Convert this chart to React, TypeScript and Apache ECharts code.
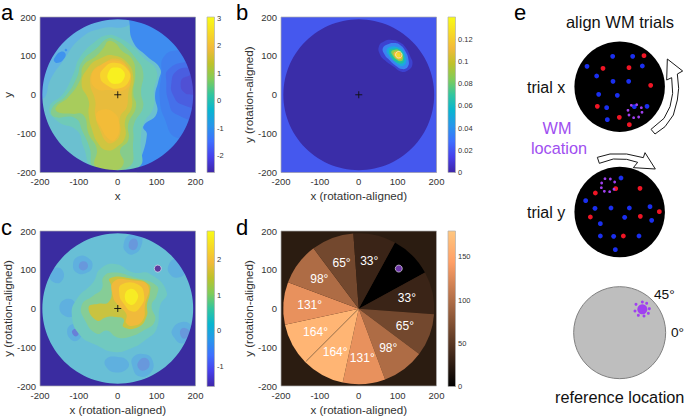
import React, { useEffect, useRef } from "react";
import * as echarts from "echarts";

type Pts = number[][];

const axisTicks = [-200, -100, 0, 100, 200];
const tipRadius = 194;
const targetLocation = [[103, 103]];
const markerCenter = [[0, 0]];

const barTicksA = [-2, -1, 0, 1, 2, 3];
const barTicksB = [0, 0.02, 0.04, 0.06, 0.08, 0.1, 0.12];
const barTicksC = [-1, 0, 1, 2];
const barTicksD = [0, 50, 100, 150];

const contoursA: Pts[] = [
  [[-200,-6],[-200,191],[32,208],[27,178],[-45,170],[-97,144],[-140,88],[-174,37],[-187,-6]],
  [[-161,97],[-148,110],[-135,107],[-138,93],[-153,82],[-164,87]],
  [[-135,118],[-130,116],[-132,112],[-136,113]],
  [[32,208],[30,187],[40,135],[75,99],[109,67],[105,37],[96,-2],[100,-49],[66,-81],[75,-102],[56,-182],[53,-212],[229,-212],[229,208]],
  [[120,100],[112,50],[108,-10],[120,-60],[150,-110],[200,-90],[229,0],[200,110],[165,115]],
  [[130,65],[125,30],[130,-15],[150,-50],[229,-60],[229,80],[180,85]],
  [[150,60],[138,30],[142,0],[165,-25],[229,-30],[229,65],[185,70]],
  [[172,45],[162,25],[172,5],[190,0],[229,0],[229,50]],
  [[-28,153],[-3,150],[40,123],[67,95],[100,61],[93,11],[92,-32],[66,-75],[59,-118],[53,-186],[-62,-186],[-88,-135],[-105,-92],[-155,-68],[-176,-33],[-140,3],[-114,54],[-97,97],[-54,140]],
  [[-26,145],[-5,141],[25,118],[45,95],[65,60],[60,5],[65,-32],[42,-75],[40,-118],[28,-186],[-60,-186],[-72,-138],[-90,-96],[-110,-60],[-165,-56],[-168,-33],[-133,-2],[-105,45],[-92,85],[-54,120]],
  [[-24,138],[-7,133],[10,114],[36,93],[45,58],[40,3],[47,-30],[27,-75],[27,-117],[6,-143],[15,-177],[-11,-195],[-58,-184],[-54,-139],[-75,-100],[-88,-53],[-118,-49],[-153,-45],[-159,-32],[-127,-6],[-97,37],[-88,75],[-54,101],[-35,123]],
  [[-11,101],[27,80],[40,45],[36,3],[36,-32],[19,-66],[19,-109],[-3,-135],[-28,-143],[-50,-126],[-67,-87],[-75,-49],[-75,-15],[-93,28],[-75,71],[-45,93]],
  [[-7,93],[25,73],[33,37],[27,3],[23,-32],[6,-57],[6,-100],[-11,-122],[-28,-122],[-45,-92],[-58,-53],[-58,-15],[-71,28],[-63,63],[-37,80]],
  [[-7,88],[24,70],[33,35],[12,10],[-20,12],[-56,16],[-68,47],[-50,72]],
  [[-45,-40],[-11,-45],[4,-79],[-7,-116],[-24,-113],[-44,-83],[-56,-56]],
  [[-8,82],[24,66],[30,38],[2,16],[-30,26],[-45,45],[-36,68]],
  [[-7,70],[14,62],[16,42],[-3,28],[-24,38],[-22,62]],
];
const fillsA = ["#63B4E2","#3F93EE","#3F93EE","#3E8CF0","#4080EE","#4570EA","#4A5EE0","#5050D4","#6FCAB8","#86CC8C","#A8CC5C","#CFC540","#E8BC3C","#F3BC38","#F3BC38","#F7D42C","#F8F020"];

const contoursB: Pts[] = [
  [[52,125],[65,137],[85,141],[105,135],[120,122],[132,100],[138,78],[125,62],[108,60],[90,72],[68,88],[54,105]],
  [[62,120],[75,130],[92,133],[108,127],[120,112],[128,90],[126,72],[112,66],[96,74],[78,90],[66,104]],
  [[72,116],[84,124],[100,123],[112,116],[120,100],[122,84],[114,74],[100,78],[88,90],[76,102]],
  [[78,114],[90,119],[102,118],[112,110],[117,96],[116,84],[108,80],[96,84],[84,96]],
  [[84,111],[94,116],[104,114],[112,104],[114,92],[108,86],[98,90],[88,100]],
  [[90,108],[98,112],[106,110],[111,100],[109,92],[100,92],[92,100]],
  [[95,106],[102,108],[107,102],[104,96],[97,98]],
];
const fillsB = ["#3C42D0","#3B83F2","#1CA8DF","#20C0A0","#8ACC50","#F0B83A","#F5D82C"];

const contoursC: Pts[] = [
  [[-115,115],[-100,135],[-75,130],[-65,110],[-80,92],[-105,92]],
  [[-100,112],[-90,122],[-78,116],[-80,102],[-95,100]],
  [[15,165],[30,190],[58,190],[60,160],[40,140],[22,145]],
  [[28,165],[38,180],[50,175],[48,155],[34,152]],
  [[-130,-55],[-112,-40],[-95,-55],[-98,-78],[-118,-82]],
  [[-118,-60],[-108,-52],[-100,-62],[-108,-72]],
  [[40,-125],[70,-118],[90,-135],[85,-165],[55,-175],[38,-150]],
  [[55,-135],[72,-128],[82,-145],[68,-160],[52,-152]],
  [[-30,-130],[0,-125],[25,-135],[25,-155],[-5,-165],[-30,-150]],
  [[140,-55],[165,-35],[190,-45],[195,-75],[165,-90],[145,-75]],
  [[160,-60],[172,-50],[185,-62],[170,-78]],
  [[130,110],[150,130],[170,120],[175,95],[155,80],[135,88]],
  [[-150,5],[-130,25],[-108,12],[-110,-15],[-135,-20]],
  [[-175,85],[-160,105],[-140,95],[-145,70],[-165,68]],
  [[-45,102],[-7,115],[40,93],[83,89],[126,42],[109,8],[100,-52],[75,-78],[32,-104],[-11,-112],[-54,-95],[-97,-69],[-118,-18],[-105,25],[-63,68]],
  [[-37,81],[-11,93],[40,81],[100,59],[100,33],[87,8],[96,-31],[66,-57],[27,-74],[-3,-74],[-28,-57],[-54,-65],[-84,-31],[-93,8],[-63,33],[-41,51]],
  [[-20,78],[40,76],[79,63],[83,42],[75,8],[75,-18],[53,-48],[15,-48],[15,-27],[-7,-22],[-28,-22],[-54,-31],[-75,3],[-50,12],[-24,16],[-15,51]],
  [[-10,70],[40,72],[78,58],[70,8],[66,-27],[44,-44],[22,-38],[22,-14],[2,8],[-12,30]],
  [[10,62],[52,62],[68,33],[58,4],[38,-8],[14,14],[4,38]],
  [[30,50],[50,40],[48,19],[32,10],[18,30]],
];
const fillsC = ["#5FB0DF","#6898DC","#5FB0DF","#6898DC","#5FB0DF","#6880D8","#5FB0DF","#6898DC","#5FB0DF","#5FB0DF","#6898DC","#5FB0DF","#5FB0DF","#5FB0DF","#70C9C0","#86CD96","#C9C340","#F0BA3B","#F5D22C","#F7EC24"];

const sliceDistances = [0, 33, 65, 98, 131, 164, 164, 131, 98, 65, 33];

const blueDotsX = [[428,169],[488,169],[517,198],[351,199],[380,228],[429,244],[476,244],[386,283],[442,286],[410,323],[531,319],[412,359],[493,320]];
const redDotsX = [[522,167],[399,205],[477,203],[542,256],[382,319],[448,352],[478,374]];
const ringDotsX = [[484,316],[500,314],[514,323],[516,337],[506,351],[491,353],[477,345],[474,331]];
const blueDotsY = [[453,534],[347,602],[375,625],[423,624],[478,624],[540,620],[391,671],[464,652],[545,661],[391,708],[431,709],[507,708],[436,749]];
const redDotsY = [[376,579],[437,566],[510,565],[568,635],[361,651],[511,649],[460,708]];
const ringDotsY = [[395,549],[405,536],[421,537],[434,546],[432,568],[419,575],[403,574],[394,563]];
const ringDotsRef = [[517,906],[530,910],[538,926],[535,940],[522,948],[505,946],[495,933],[498,913]];
const refDot = [[517,928]];
const discCenters = [[449,260],[449,636]];
const greyDisc = [[449,998]];
const arrowRight = [[555,402],[585,380],[610,345],[622,300],[626,265],[622,222],[638,213],[592,177],[590,240],[605,233],[608,280],[600,320],[582,355],[543,388]];
const arrowTop = [[382,472],[420,462],[470,462],[520,473],[525,458],[556,507],[490,503],[503,487],[470,478],[430,477],[388,490]];

const FONT = "Liberation Sans";
const TICK_COLOR = "#333333";
const parulaStops = ["#3E26A8","#4740EB","#3E6FFF","#2796EB","#08B5D0","#31C69F","#81CC59","#BEC22A","#F2BA3A","#F7DA26","#F9FB15"];

function copper(v: number) {
  const r = Math.min(1, v * 1.25), g = 0.78 * v, b = 0.5 * v;
  return `rgb(${Math.round(r * 255)},${Math.round(g * 255)},${Math.round(b * 255)})`;
}

const panels = [
  { left: 40, top: 17, xName: "x", yName: "y" },
  { left: 281, top: 17, xName: "x (rotation-aligned)", yName: "y (rotation-aligned)" },
  { left: 40, top: 231, xName: "x (rotation-aligned)", yName: "y (rotation-aligned)" },
  { left: 281, top: 231, xName: "x (rotation-aligned)", yName: "y (rotation-aligned)" },
];
const barRanges = [
  { min: -2.62, max: 3.05, ticks: barTicksA },
  { min: 0, max: 0.14, ticks: barTicksB },
  { min: -1.58, max: 2.82, ticks: barTicksC },
  { min: 0, max: 180, ticks: barTicksD },
];
const SIZE = 155.5;

function buildOption() {
  const grid: any[] = [], xAxis: any[] = [], yAxis: any[] = [], series: any[] = [];

  panels.forEach((p, i) => {
    grid.push({ left: p.left, top: p.top, width: SIZE, height: SIZE, show: true, borderColor: "#B0B0B0", borderWidth: 0.7, backgroundColor: "transparent", z: 10 });
    const tickLabel = { fontSize: 9.5, color: TICK_COLOR, fontFamily: FONT, margin: 4, customValues: axisTicks };
    const nameStyle = { fontSize: 11.6, color: TICK_COLOR, fontFamily: FONT };
    xAxis.push({ type: "value", gridIndex: i, min: -200, max: 200, interval: 100, name: p.xName, nameLocation: "middle", nameGap: 17, nameTextStyle: nameStyle, axisLine: { show: false, onZero: false }, axisTick: { show: false }, splitLine: { show: false }, axisLabel: tickLabel, z: 10 });
    yAxis.push({ type: "value", gridIndex: i, min: -200, max: 200, interval: 100, name: p.yName, nameLocation: "middle", nameGap: 22, nameTextStyle: nameStyle, axisLine: { show: false, onZero: false }, axisTick: { show: false }, splitLine: { show: false }, axisLabel: tickLabel, z: 10 });
  });

  panels.forEach((p, i) => {
    const r = barRanges[i];
    const gi = 4 + i;
    grid.push({ left: p.left + 167, top: p.top, width: 7.5, height: SIZE, show: true, borderColor: "#B0B0B0", borderWidth: 0.7, z: 10 });
    xAxis.push({ type: "value", gridIndex: gi, min: 0, max: 1, show: false });
    yAxis.push({
      type: "value", gridIndex: gi, min: r.min, max: r.max, position: "right",
      axisLine: { show: false, onZero: false }, splitLine: { show: false },
      axisTick: { show: true, inside: true, length: 1.5, lineStyle: { color: "#666", width: 0.5 }, customValues: r.ticks },
      axisLabel: { fontSize: 7.5, color: TICK_COLOR, fontFamily: FONT, margin: 2.5, customValues: r.ticks, showMinLabel: true, showMaxLabel: true },
    });
    const stops = i === 3
      ? [0, 0.2, 0.4, 0.6, 0.8, 1].map((t) => ({ offset: t, color: copper(t) }))
      : parulaStops.map((c, k) => ({ offset: k / (parulaStops.length - 1), color: c }));
    series.push({
      type: "custom", coordinateSystem: "cartesian2d", xAxisIndex: gi, yAxisIndex: gi, silent: true, data: [[0.5, r.min]],
      renderItem: (_: any, api: any) => {
        const a = api.coord([0, r.max]), b = api.coord([1, r.min]);
        return { type: "rect", shape: { x: a[0], y: a[1], width: b[0] - a[0], height: b[1] - a[1] }, style: { fill: new echarts.graphic.LinearGradient(0, 1, 0, 0, stops) } };
      },
    });
  });

  const contourSeries = (gi: number, layers: Pts[], fills: string[], base: string, corner: string) => {
    const layerSeries = {
      type: "custom", coordinateSystem: "cartesian2d", xAxisIndex: gi, yAxisIndex: gi, silent: true, clip: true, z: 2,
      data: layers.map((_, k) => [0, 0, k]),
      renderItem: (params: any, api: any) => ({
        type: "polygon",
        shape: { points: layers[params.dataIndex].map((q) => api.coord(q)), smooth: 0.5 },
        style: { fill: fills[params.dataIndex] },
      }),
    };
    const baseSeries = {
      type: "custom", coordinateSystem: "cartesian2d", xAxisIndex: gi, yAxisIndex: gi, silent: true, z: 1, data: [[0, 0]],
      renderItem: (_: any, api: any) => {
        const a = api.coord([-200, 200]), b = api.coord([200, -200]);
        return { type: "rect", shape: { x: a[0], y: a[1], width: b[0] - a[0], height: b[1] - a[1] }, style: { fill: base } };
      },
    };
    return [baseSeries, layerSeries, maskSeries(gi, corner)];
  };

  function maskSeries(gi: number, corner: string) {
    return {
      type: "custom", coordinateSystem: "cartesian2d", xAxisIndex: gi, yAxisIndex: gi, silent: true, z: 3, data: [[0, 0]],
      renderItem: (_: any, api: any) => {
        const ring: number[][] = [];
        for (let d = 0; d <= 360; d += 3) {
          const t = (d * Math.PI) / 180;
          ring.push(api.coord([tipRadius * Math.cos(t), -tipRadius * Math.sin(t)]));
        }
        const outer = [[200, 0], [200, 200], [-200, 200], [-200, -200], [200, -200], [200, 0]].map((q) => api.coord(q));
        return { type: "polygon", shape: { points: [...outer, ...ring] }, style: { fill: corner } };
      },
    };
  }

  series.push(...contourSeries(0, contoursA, fillsA, "#6BC0D0", "#3A2CA0"));
  series.push(...contourSeries(1, contoursB, fillsB, "#3A2DA8", "#4558EE"));
  series.push(...contourSeries(2, contoursC, fillsC, "#68BFD6", "#3A2CA0"));

  // panel d
  series.push({
    type: "custom", coordinateSystem: "cartesian2d", xAxisIndex: 3, yAxisIndex: 3, silent: true, z: 1, data: [[0, 0]],
    renderItem: (_: any, api: any) => {
      const a = api.coord([-200, 200]), b = api.coord([200, -200]);
      return { type: "rect", shape: { x: a[0], y: a[1], width: b[0] - a[0], height: b[1] - a[1] }, style: { fill: "#2B1C11" } };
    },
  });
  const pieCenter = [281 + SIZE / 2, 231 + SIZE / 2];
  const pieBase = { type: "pie", center: pieCenter, startAngle: 61.36, clockwise: true, silent: true, avoidLabelOverlap: false, labelLine: { show: false } };
  series.push({
    ...pieBase, radius: [0, 75.5], z: 2,
    label: { show: false },
    data: sliceDistances.map((v) => ({ name: String(v), value: 1, itemStyle: { color: copper(v / 180), borderWidth: 0, opacity: 1 } })),
  });
  series.push({
    ...pieBase, radius: [17, 75.5], z: 3,
    label: { show: true, position: "inside", fontSize: 12, color: "#FFFFFF", fontFamily: FONT, formatter: (o: any) => (o.name === "0" ? "" : `${o.name}°`) },
    data: sliceDistances.map((v) => ({ name: String(v), value: 1, itemStyle: { color: "rgba(0,0,0,0)", borderWidth: 0 } })),
  });
  series.push({
    type: "custom", coordinateSystem: "cartesian2d", xAxisIndex: 3, yAxisIndex: 3, silent: true, z: 4, data: [[0, 0]],
    renderItem: (_: any, api: any) => {
      const a = api.coord([0, 0]), b = api.coord([-135, -135]);
      return { type: "line", shape: { x1: a[0], y1: a[1], x2: b[0], y2: b[1] }, style: { stroke: "#8A6A4A", lineWidth: 0.6 } };
    },
  });

  // centre crosses
  [0, 1, 2].forEach((gi) => {
    series.push({
      type: "custom", coordinateSystem: "cartesian2d", xAxisIndex: gi, yAxisIndex: gi, silent: true, z: 6, data: markerCenter,
      renderItem: (_: any, api: any) => {
        const cx = api.value(0), cy = api.value(1);
        const a = api.coord([cx - 9, cy]), b = api.coord([cx + 9, cy]), c = api.coord([cx, cy - 9]), d = api.coord([cx, cy + 9]);
        return {
          type: "group", children: [
            { type: "line", shape: { x1: a[0], y1: a[1], x2: b[0], y2: b[1] }, style: { stroke: "#111", lineWidth: 0.9 } },
            { type: "line", shape: { x1: c[0], y1: c[1], x2: d[0], y2: d[1] }, style: { stroke: "#111", lineWidth: 0.9 } },
          ],
        };
      },
    });
  });

  // target markers
  series.push({ type: "scatter", xAxisIndex: 1, yAxisIndex: 1, z: 6, silent: true, symbolSize: 6.5, data: targetLocation, itemStyle: { color: "rgba(0,0,0,0)", opacity: 1, borderColor: "#F5F2D8", borderWidth: 0.7 } });
  [2, 3].forEach((gi) => {
    series.push({ type: "scatter", xAxisIndex: gi, yAxisIndex: gi, z: 6, silent: true, symbolSize: 7, data: targetLocation, itemStyle: { color: gi === 2 ? "#5D3A9E" : "#6E37A8", opacity: 1, borderColor: "#E6DDEE", borderWidth: 0.7 } });
  });

  // panel e
  const eGi = 8;
  grid.push({ left: 470, top: 0, width: 215, height: 416, show: false });
  xAxis.push({ type: "value", gridIndex: eGi, min: 0, max: 645, show: false });
  yAxis.push({ type: "value", gridIndex: eGi, min: 0, max: 1248, inverse: true, show: false });
  const dots = (data: number[][], size: number, color: string, z: number, extra: any = {}) => ({
    type: "scatter", xAxisIndex: eGi, yAxisIndex: eGi, silent: true, symbolSize: size, data, z, itemStyle: { color, opacity: 1, ...extra },
  });
  series.push(dots(discCenters, 90.5, "#000000", 2));
  series.push(dots(greyDisc, 92, "#BEBEBE", 2, { borderColor: "#808080", borderWidth: 1 }));
  series.push(dots(blueDotsX, 4.8, "#1A2FF0", 3));
  series.push(dots(blueDotsY, 4.8, "#1A2FF0", 3));
  series.push(dots(redDotsX, 4.8, "#F01525", 3));
  series.push(dots(redDotsY, 4.8, "#F01525", 3));
  series.push(dots(ringDotsX, 2.8, "#A040F0", 4));
  series.push(dots(ringDotsY, 2.8, "#A040F0", 4));
  series.push(dots(ringDotsRef, 3, "#A040F0", 4));
  series.push(dots(refDot, 10, "#A040F0", 4));
  [arrowRight, arrowTop].forEach((outline) => {
    series.push({
      type: "custom", coordinateSystem: "cartesian2d", xAxisIndex: eGi, yAxisIndex: eGi, silent: true, z: 5, data: [[0, 0]],
      renderItem: (_: any, api: any) => ({
        type: "polygon",
        shape: { points: outline.map((q) => api.coord(q)) },
        style: { fill: "#FFFFFF", stroke: "#1A1A1A", lineWidth: 1 },
      }),
    });
  });

  const txt = (text: string, x: number, y: number, fontSize: number, fill = "#111111", align = "left") => ({
    type: "text", x, y, silent: true,
    style: { text, x: 0, y: 0, fontSize, fill, fontFamily: FONT, align, verticalAlign: "middle" },
  });

  const graphic = [
    txt("a", 1, 12, 22, "#000"),
    txt("b", 236, 12, 22, "#000"),
    txt("c", 1, 227, 22, "#000"),
    txt("d", 236, 227, 22, "#000"),
    txt("e", 514, 12, 22, "#000"),
    txt("align WM trials", 620, 22, 16.5, "#111", "center"),
    txt("trial x", 527, 87, 16),
    txt("trial y", 527, 212, 16),
    txt("WM", 557, 128, 16.3, "#A04FF0", "center"),
    txt("location", 559, 148, 16.3, "#A04FF0", "center"),
    txt("45°", 654, 294, 13.7),
    txt("0°", 671, 332, 13.7),
    txt("reference location", 555, 397, 16.3),
  ];

  return { animation: false, backgroundColor: "#FFFFFF", textStyle: { fontFamily: FONT }, grid, xAxis, yAxis, series, graphic };
}

export default function App() {
  const ref = useRef<HTMLDivElement>(null);
  useEffect(() => {
    if (!ref.current) return;
    const chart = echarts.init(ref.current, undefined, { renderer: "svg" });
    chart.setOption(buildOption() as any);
    return () => chart.dispose();
  }, []);
  return <div ref={ref} style={{ position: "fixed", left: 0, top: 0, width: 685, height: 416 }} />;
}
